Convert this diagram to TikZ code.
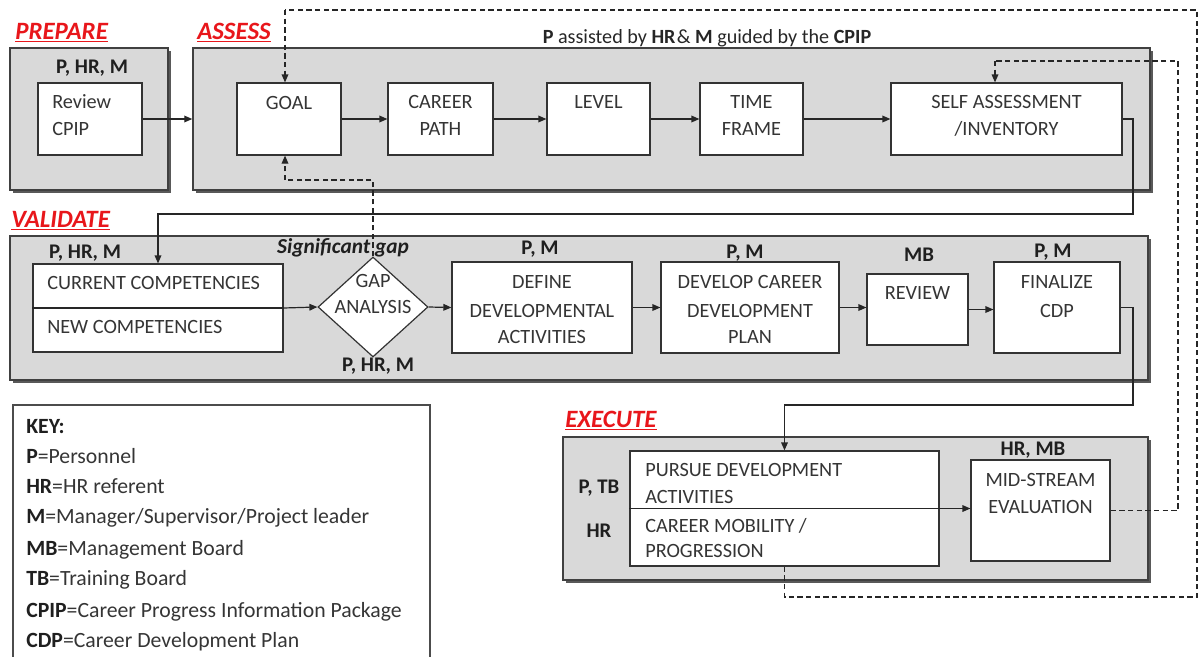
\documentclass[tikz,border=0pt]{standalone}
\usepackage{fontspec}
\setmainfont{Carlito}
\usetikzlibrary{arrows.meta,fit,shapes.geometric,shadows}
\definecolor{boxgray}{HTML}{D9D9D9}
\definecolor{txtgray}{HTML}{353535}
\definecolor{hdrred}{HTML}{E8161B}
\begin{document}
\begin{tikzpicture}[x=0.75pt,y=-0.75pt,
  gbox/.style={draw=black!75, line width=1.1pt, fill=boxgray, inner sep=0pt,
    general shadow={fill=black!65, shadow xshift=2.2pt, shadow yshift=-2.2pt}},
  wbox/.style={draw=black!80, line width=0.9pt, fill=white, inner sep=0pt},
  txt/.style={font=\fontsize{15.2}{18}\selectfont, text=txtgray, anchor=base, inner sep=0pt},
  ltxt/.style={txt, anchor=base west},
  lbl/.style={font=\bfseries\fontsize{15.6}{18}\selectfont, text=black!88, anchor=base, inner sep=0pt},
  hdr/.style={font=\bfseries\itshape\fontsize{18.7}{22}\selectfont, text=hdrred, anchor=base west, inner sep=0pt},
  keytxt/.style={font=\fontsize{16.3}{19}\selectfont, text=txtgray, anchor=base west, inner sep=0pt},
  arr/.style={-{Triangle[length=6pt,width=5pt]}, line width=0.9pt, draw=black!85},
  darr/.style={arr, dash pattern=on 4pt off 2.5pt},
  dline/.style={line width=0.9pt, draw=black!85, dash pattern=on 4pt off 2.5pt}]
\useasboundingbox (0,0) rectangle (1200,657);
\clip (0,0) rectangle (1200,657);

% section headers
\node[hdr] (hprep) at (15,39) {\underline{PREPARE}};
\node[hdr] (hass) at (197,39) {\underline{ASSESS}};
\node[hdr] (hval) at (11,227) {\underline{VALIDATE}};
\node[hdr] (hexe) at (565,427) {\underline{EXECUTE}};

% gray section boxes
\node[gbox, fit={(10,48) (168,190)}] (prep) {};
\node[gbox, fit={(193,48) (1150,190)}] (assess) {};
\node[gbox, fit={(10,236) (1148,380)}] (valid) {};
\node[gbox, fit={(563,437) (1148,580)}] (exec) {};

% title of assess
\node[anchor=base, inner sep=0pt, font=\fontsize{15.1}{18}\selectfont, text=black!85] (title) at (707,43)
  {\textbf{P} assisted by \textbf{HR}\kern1pt\& \textbf{M} guided by the \textbf{CPIP}};

% white boxes
\node[wbox, fit={(38,83) (142,155)}] (rev) {};
\node[wbox, fit={(237,83) (341,155)}] (goal) {};
\node[wbox, fit={(388,83) (493,155)}] (career) {};
\node[wbox, fit={(547,83) (650,155)}] (level) {};
\node[wbox, fit={(700,83) (803,155)}] (time) {};
\node[wbox, fit={(891,83) (1122,155)}] (self) {};
\node[wbox, fit={(33,264) (283,352)}] (comp) {};
\node[wbox, diamond, minimum width=110*0.75pt, minimum height=100*0.75pt] (gap) at (373,307) {};
\node[wbox, fit={(452,262) (632,353)}] (define) {};
\node[wbox, fit={(661,262) (839,353)}] (develop) {};
\node[wbox, fit={(867,274) (968,345)}] (review) {};
\node[wbox, fit={(994,262) (1120,353)}] (final) {};
\node[wbox, fit={(630,451) (939,566)}] (pursue) {};
\node[wbox, fit={(971,460) (1110,561)}] (mid) {};

% texts in boxes
\node[ltxt] (t-rev1) at (52,108) {Review};
\node[ltxt] (t-rev2) at (52,135) {CPIP};
\node[txt] (t-goal) at (289,109) {GOAL};
\node[txt] (t-car1) at (440.5,108) {CAREER};
\node[txt] (t-car2) at (440.5,135) {PATH};
\node[txt] (t-lev) at (598.5,108) {LEVEL};
\node[txt] (t-tim1) at (751.5,108) {TIME};
\node[txt] (t-tim2) at (751.5,135) {FRAME};
\node[txt] (t-self1) at (1006.5,108) {SELF ASSESSMENT};
\node[txt] (t-self2) at (1006.5,135) {/INVENTORY};
\node[ltxt] (t-comp1) at (47,289) {CURRENT COMPETENCIES};
\node[ltxt] (t-comp2) at (47,333) {NEW COMPETENCIES};
\node[txt] (t-gap1) at (373,287) {GAP};
\node[txt] (t-gap2) at (373,313) {ANALYSIS};
\node[txt] (t-def1) at (542,288) {DEFINE};
\node[txt] (t-def2) at (542,317) {DEVELOPMENTAL};
\node[txt] (t-def3) at (542,343) {ACTIVITIES};
\node[txt] (t-dev1) at (750,288) {DEVELOP CAREER};
\node[txt] (t-dev2) at (750,317) {DEVELOPMENT};
\node[txt] (t-dev3) at (750,343) {PLAN};
\node[txt] (t-rvw) at (917.5,299) {REVIEW};
\node[txt] (t-fin1) at (1057,288) {FINALIZE};
\node[txt] (t-fin2) at (1057,317) {CDP};
\node[ltxt] (t-pur1) at (645,476) {PURSUE DEVELOPMENT};
\node[ltxt] (t-pur2) at (645,503) {ACTIVITIES};
\node[ltxt] (t-pur3) at (645,532) {CAREER MOBILITY /};
\node[ltxt] (t-pur4) at (645,557) {PROGRESSION};
\node[txt] (t-mid1) at (1040.5,486) {MID-STREAM};
\node[txt] (t-mid2) at (1040.5,513) {EVALUATION};

% role labels
\node[lbl] (l-prep) at (92,73) {P, HR, M};
\node[lbl] (l-comp) at (85,258) {P, HR, M};
\node[lbl, font=\bfseries\itshape\fontsize{16}{19}\selectfont] (l-sig) at (343,253) {Significant gap};
\node[lbl] (l-gap) at (378,371) {P, HR, M};
\node[lbl] (l-def) at (540,254) {P, M};
\node[lbl] (l-dev) at (745,258) {P, M};
\node[lbl] (l-rev) at (919,261) {MB};
\node[lbl] (l-fin) at (1053,257) {P, M};
\node[lbl] (l-ptb) at (599,493) {P, TB};
\node[lbl] (l-hr) at (599,537) {HR};
\node[lbl] (l-mid) at (1033,455) {HR, MB};

% divider lines
\draw[line width=0.9pt, draw=black!85] (comp.west) -- (comp.east);

% junction coordinates
\coordinate (j1) at (1133,214);
\coordinate (j2) at (1133,405);
\coordinate (d1) at (1178,61);
\coordinate (d2) at (995,61);
\coordinate (d3) at (1197,597);
\coordinate (d4) at (1197,10);
\coordinate (d5) at (285,10);
\coordinate (d6) at (285,180);

% solid connectors
\draw[arr] (rev.east) -- (rev.east -| assess.west);
\draw[arr] (goal) -- (career);
\draw[arr] (career) -- (level);
\draw[arr] (level) -- (time);
\draw[arr] (time) -- (self);
\draw[arr] (self.east) -| (j1) -| (comp.north);
\draw[arr] (comp.east) -- (gap.west);
\draw[arr] (gap.east) -- (define.west);
\draw[arr] (define) -- (develop);
\draw[arr] (develop.east) -- (develop.east -| review.west);
\draw[arr] (review.east) -- (review.east -| final.west);
\draw[arr] (final.east) -| (j2) -| (pursue.north);
\draw[arr] (pursue.west) -- (pursue.west -| mid.west);

% dashed connectors
\draw[dline] (gap.north) |- (d6);
\draw[darr] (d6) -- (d6 |- goal.south);
\draw[dline] (mid.east) -| (d1) -- (d2);
\draw[darr] (d2) -- (d2 |- self.north);
\draw[dline] (pursue.south) |- (d3) -- (d4) -- (d5);
\draw[darr] (d5) -- (d5 |- goal.north);

% key
\node[draw=black!70, line width=1pt, inner sep=0pt, fit={(13,405) (430,680)}] (key) {};
\node[keytxt, text=black!88] (k0) at (26,433) {\textbf{KEY:}};
\node[keytxt] (k1) at (26,463) {\textbf{\color{black!88}P}=Personnel};
\node[keytxt] (k2) at (26,493) {\textbf{\color{black!88}HR}=HR referent};
\node[keytxt] (k3) at (26,523) {\textbf{\color{black!88}M}=Manager/Supervisor/Project leader};
\node[keytxt] (k4) at (26,555) {\textbf{\color{black!88}MB}=Management Board};
\node[keytxt] (k5) at (26,585) {\textbf{\color{black!88}TB}=Training Board};
\node[keytxt] (k6) at (26,617) {\textbf{\color{black!88}CPIP}=Career Progress Information Package};
\node[keytxt] (k7) at (26,647) {\textbf{\color{black!88}CDP}=Career Development Plan};
\end{tikzpicture}
\end{document}
